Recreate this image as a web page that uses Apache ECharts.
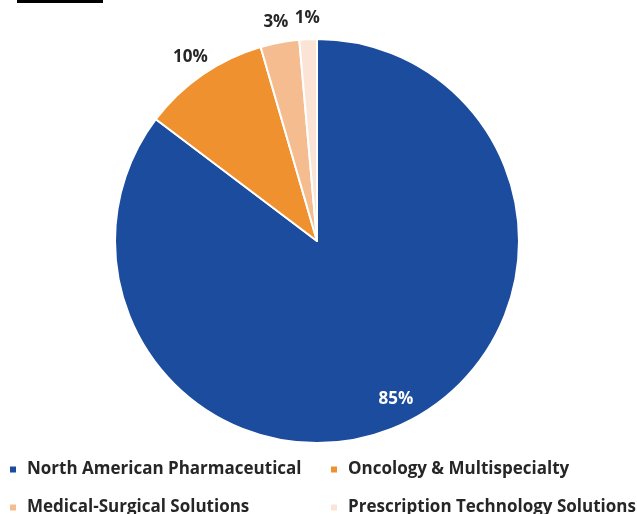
<!DOCTYPE html>
<html>
<head>
<meta charset="utf-8">
<script src="https://cdn.jsdelivr.net/npm/echarts@6/dist/echarts.min.js"></script>
<style>
  html, body { margin: 0; padding: 0; background: #fff; }
  #chart { width: 637px; height: 514px; }
</style>
</head>
<body>
<div id="chart"></div>
<script>
// Revenue share by segment
const segments = [
  'North American Pharmaceutical',
  'Oncology & Multispecialty',
  'Medical-Surgical Solutions',
  'Prescription Technology Solutions'
];
const shares = [85.3, 10.2, 3.1, 1.4];
const colors = ['#1B4C9E', '#F0912F', '#F5BD8F', '#FBE4D5'];

const FONT = '"Open Sans", "Noto Sans", sans-serif';
const CENTER = [317, 241];
const RADIUS = 202;
const data = segments.map((name, i) => ({ name, value: shares[i] }));
const pct = p => Math.round(p.value) + '%';

// Transparent rings used only to carry labels at a chosen radius
const labelRing = (radius, show, color) => ({
  type: 'pie',
  radius,
  center: CENTER,
  silent: true,
  legendHoverLink: false,
  itemStyle: { color: 'rgba(0,0,0,0)', borderWidth: 0 },
  emphasis: { disabled: true },
  labelLine: { show: false },
  data: data.map((d, i) => ({
    name: d.name,
    value: d.value,
    label: {
      show: show[i],
      position: 'inside',
      formatter: pct,
      color,
      fontFamily: FONT,
      fontWeight: 'bold',
      fontSize: 17
    }
  }))
});

const legendBase = {
  orient: 'vertical',
  icon: 'rect',
  itemWidth: 8,
  itemHeight: 8,
  itemGap: 21,
  padding: 0,
  selectedMode: false,
  textStyle: { fontFamily: FONT, fontWeight: 'bold', fontSize: 17, color: '#262626', padding: [0, 0, 0, 5] },
  top: 461,
  height: 70
};

const chart = echarts.init(document.getElementById('chart'));
chart.setOption({
  animation: false,
  color: colors,
  graphic: [
    { type: 'rect', shape: { x: 17, y: 0, width: 86, height: 3 }, style: { fill: '#000' } }
  ],
  legend: [
    Object.assign({}, legendBase, {
      left: 8,
      data: [segments[0], segments[2]].map(n => ({ name: n, itemStyle: { color: colors[segments.indexOf(n)] } }))
    }),
    Object.assign({}, legendBase, {
      left: 329,
      data: [segments[1], segments[3]].map(n => ({ name: n, itemStyle: { color: colors[segments.indexOf(n)] } }))
    })
  ],
  series: [
    {
      type: 'pie',
      radius: [0, RADIUS],
      center: CENTER,
      startAngle: 90,
      clockwise: true,
      label: { show: false },
      labelLine: { show: false },
      itemStyle: { borderColor: '#fff', borderWidth: 2 },
      emphasis: { disabled: true },
      data: data.map((d, i) => ({ name: d.name, value: d.value, itemStyle: { color: colors[i] } }))
    },
    labelRing([146, RADIUS], [true, false, false, false], '#fff'),
    labelRing([RADIUS, 238], [false, true, true, true], '#262626')
  ]
});
</script>
</body>
</html>
